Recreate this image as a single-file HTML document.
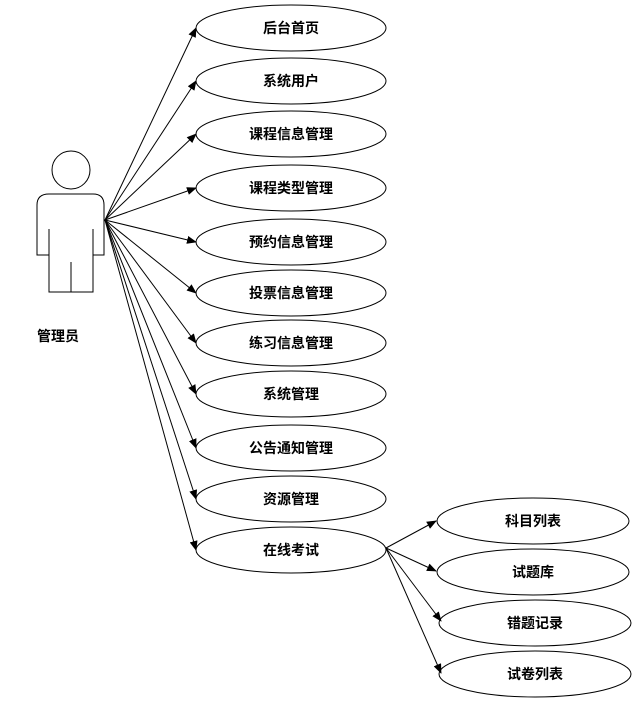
<html><body style="margin:0;background:#fff">
<svg width="643" height="704" xmlns="http://www.w3.org/2000/svg" font-family="Liberation Sans, Noto Sans CJK SC, sans-serif">
<defs><marker id="a" markerWidth="10" markerHeight="8" refX="9" refY="4" orient="auto" markerUnits="userSpaceOnUse"><path d="M0,0 L10,4 L0,8 Z" fill="#000"/></marker></defs>
<g fill="none" stroke="#000" stroke-width="1">
<circle cx="71" cy="170" r="19"/>
<path d="M49,194 H93 Q104,194 104,205 V255 H93 V292 H49 V255 H37 V205 Q37,194 49,194 Z"/>
<path d="M49,229 V255 M93,229 V255 M71,262 V292"/>
<g marker-end="url(#a)">
<line x1="105" y1="220" x2="196" y2="28"/>
<line x1="105" y1="220" x2="196" y2="81"/>
<line x1="105" y1="220" x2="196" y2="134"/>
<line x1="105" y1="220" x2="196" y2="188"/>
<line x1="105" y1="220" x2="196" y2="242"/>
<line x1="105" y1="220" x2="196" y2="293"/>
<line x1="105" y1="220" x2="196" y2="343"/>
<line x1="105" y1="220" x2="196" y2="394"/>
<line x1="105" y1="220" x2="196" y2="448"/>
<line x1="105" y1="220" x2="196" y2="499"/>
<line x1="105" y1="220" x2="196" y2="550"/>
<line x1="386" y1="548" x2="436" y2="521"/>
<line x1="386" y1="548" x2="436" y2="571"/>
<line x1="386" y1="548" x2="441" y2="621"/>
<line x1="386" y1="548" x2="441" y2="673"/>
</g>
<g>
<ellipse cx="291" cy="28" rx="95" ry="23"/>
<ellipse cx="291" cy="81" rx="95" ry="23"/>
<ellipse cx="291" cy="134" rx="95" ry="23"/>
<ellipse cx="291" cy="188" rx="95" ry="23"/>
<ellipse cx="291" cy="242" rx="95" ry="23"/>
<ellipse cx="291" cy="293" rx="95" ry="23"/>
<ellipse cx="291" cy="343" rx="95" ry="23"/>
<ellipse cx="291" cy="394" rx="95" ry="23"/>
<ellipse cx="291" cy="448" rx="95" ry="23"/>
<ellipse cx="291" cy="499" rx="95" ry="23"/>
<ellipse cx="291" cy="550" rx="95" ry="23"/>
<ellipse cx="533" cy="521" rx="96" ry="23"/>
<ellipse cx="533" cy="572" rx="96" ry="23"/>
<ellipse cx="535" cy="623" rx="96" ry="23"/>
<ellipse cx="535" cy="674" rx="96" ry="23"/>
</g></g>
<g font-size="14" font-weight="bold" text-anchor="middle" fill="#000">
<text x="58" y="341">管理员</text>
<text x="291" y="33">后台首页</text>
<text x="291" y="86">系统用户</text>
<text x="291" y="139">课程信息管理</text>
<text x="291" y="193">课程类型管理</text>
<text x="291" y="247">预约信息管理</text>
<text x="291" y="298">投票信息管理</text>
<text x="291" y="348">练习信息管理</text>
<text x="291" y="399">系统管理</text>
<text x="291" y="453">公告通知管理</text>
<text x="291" y="504">资源管理</text>
<text x="291" y="555">在线考试</text>
<text x="533" y="526">科目列表</text>
<text x="533" y="577">试题库</text>
<text x="535" y="628">错题记录</text>
<text x="535" y="679">试卷列表</text>
</g>
</svg></body></html>
